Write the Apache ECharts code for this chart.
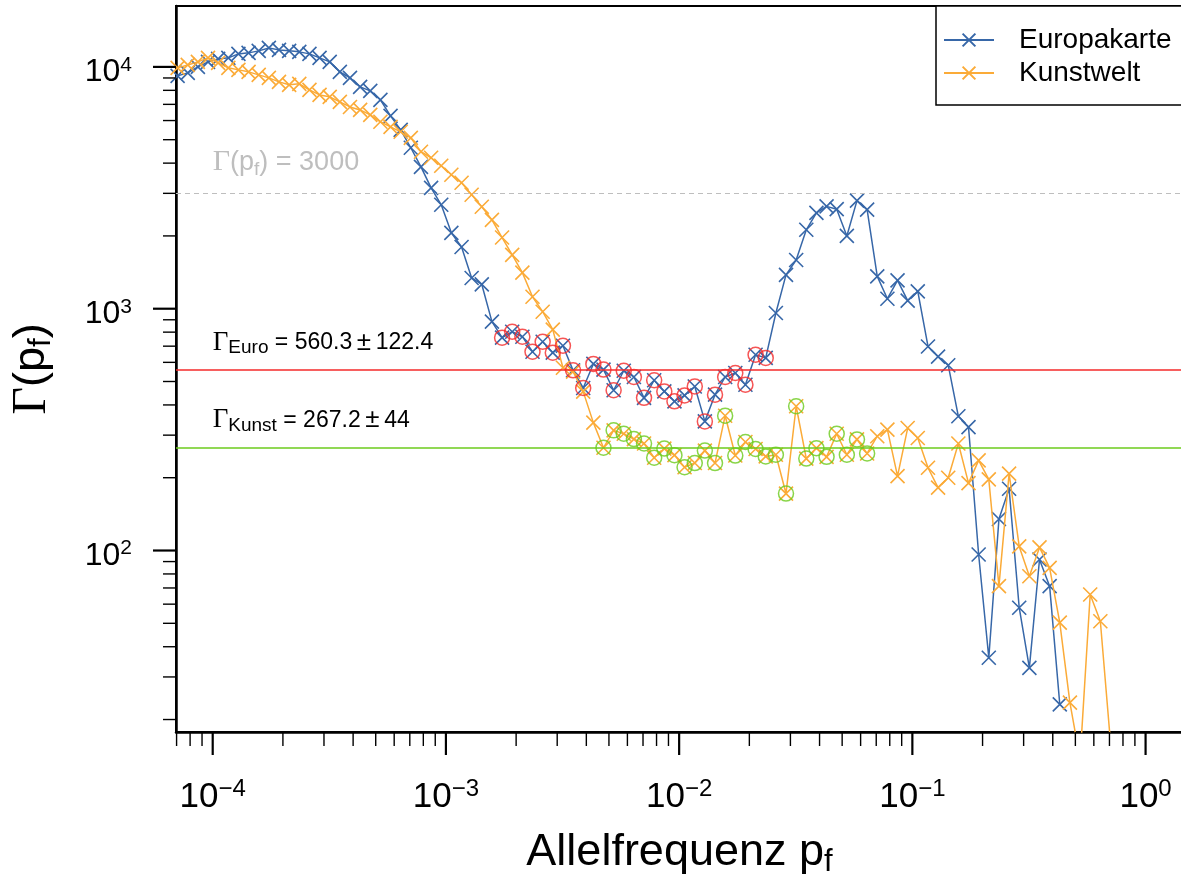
<!DOCTYPE html>
<html>
<head>
<meta charset="utf-8">
<script src="https://cdn.jsdelivr.net/npm/echarts@6/dist/echarts.min.js"></script>
<style>
html,body{margin:0;padding:0;background:#fff;}
#c{width:1181px;height:879px;}
</style>
</head>
<body>
<div id="c"></div>
<script>
// ---------------- data ----------------
// allele frequency bins (log-spaced)
const freq = [
  7.071e-5, 7.816e-5, 8.639e-5, 9.548e-5, 1.055e-4, 1.167e-4, 1.289e-4, 1.425e-4, 1.575e-4, 1.741e-4,
  1.924e-4, 2.127e-4, 2.351e-4, 2.599e-4, 2.872e-4, 3.175e-4, 3.509e-4, 3.878e-4, 4.287e-4, 4.738e-4,
  5.237e-4, 5.788e-4, 6.398e-4, 7.071e-4, 7.816e-4, 8.639e-4, 9.548e-4, 1.055e-3, 1.167e-3, 1.289e-3,
  1.425e-3, 1.575e-3, 1.741e-3, 1.924e-3, 2.127e-3, 2.351e-3, 2.599e-3, 2.872e-3, 3.175e-3, 3.509e-3,
  3.878e-3, 4.287e-3, 4.738e-3, 5.237e-3, 5.788e-3, 6.398e-3, 7.071e-3, 7.816e-3, 8.639e-3, 9.548e-3,
  1.055e-2, 1.167e-2, 1.289e-2, 1.425e-2, 1.575e-2, 1.741e-2, 1.924e-2, 2.127e-2, 2.351e-2, 2.599e-2,
  2.872e-2, 3.175e-2, 3.509e-2, 3.878e-2, 4.287e-2, 4.738e-2, 5.237e-2, 5.788e-2, 6.398e-2, 7.071e-2,
  7.816e-2, 8.639e-2, 9.548e-2, 1.055e-1, 1.167e-1, 1.289e-1, 1.425e-1, 1.575e-1, 1.741e-1, 1.924e-1,
  2.127e-1, 2.351e-1, 2.599e-1, 2.872e-1, 3.175e-1, 3.509e-1, 3.878e-1, 4.287e-1, 4.738e-1, 5.237e-1,
  5.788e-1, 6.398e-1, 7.071e-1
];
// Gamma(p_f) for "Europakarte"
const europakarte = [
  9180, 9450, 10000, 10490, 10790, 10900, 11320, 11430, 11650, 11980,
  11760, 11650, 11540, 11320, 10900, 10490, 9540, 9010, 8270, 7960,
  7310, 6270, 5490, 4630, 3860, 3160, 2690, 2060, 1800, 1340,
  1260, 884, 759, 803, 766, 664, 730, 658, 703, 556,
  470, 591, 560, 460, 554, 522, 428, 506, 455, 414,
  438, 477, 342, 441, 522, 542, 485, 645, 626, 960,
  1380, 1590, 2120, 2490, 2650, 2580, 2000, 2800, 2570, 1360,
  1100, 1310, 1080, 1180, 698, 634, 584, 359, 324, 96.3,
  36.0, 135, 180, 58.0, 32.7, 91.8, 71.2, 23.1
];
// Gamma(p_f) for "Kunstwelt"
const kunstwelt = [
  9910, 10190, 10490, 10900, 10390, 9910, 9720, 9540, 9270, 9010,
  8670, 8430, 8510, 8040, 7660, 7520, 7170, 6830, 6640, 6330,
  5930, 5650, 5390, 5090, 4460, 4210, 3900, 3580, 3320, 2960,
  2640, 2330, 1970, 1670, 1410, 1120, 972, 819, 570, 549,
  454, 338, 266, 314, 304, 289, 277, 242, 264, 248,
  221, 230, 259, 230, 361, 247, 281, 263, 245, 249,
  172, 395, 240, 265, 244, 304, 249, 288, 252, 297,
  316, 203, 321, 292, 220, 182, 200, 277, 190, 236,
  197, 71.2, 208, 104, 78.3, 103, 84.8, 50.3, 23.5, 13.7,
  65.8, 51.0, 16.1
];
// plateau fits: bin index window, mean and error
const euroFit = { from: 32, to: 58, mean: 560.3, err: 122.4 };
const kunstFit = { from: 42, to: 68, mean: 267.2, err: 44 };
const threshold = 3000;

// ticks
const xTickValues = [1e-4, 1e-3, 1e-2, 1e-1, 1];
const yTickValues = [100, 1000, 10000];
const xMinorTicks = [7e-5, 8e-5, 9e-5,
  2e-4, 3e-4, 4e-4, 5e-4, 6e-4, 7e-4, 8e-4, 9e-4,
  2e-3, 3e-3, 4e-3, 5e-3, 6e-3, 7e-3, 8e-3, 9e-3,
  2e-2, 3e-2, 4e-2, 5e-2, 6e-2, 7e-2, 8e-2, 9e-2,
  2e-1, 3e-1, 4e-1, 5e-1, 6e-1, 7e-1, 8e-1, 9e-1];
const yMinorTicks = [20, 30, 40, 50, 60, 70, 80, 90,
  200, 300, 400, 500, 600, 700, 800, 900,
  2000, 3000, 4000, 5000, 6000, 7000, 8000, 9000];

// ---------------- style ----------------
const X_MIN = 6.96e-5, X_MAX = 1.447;
const Y_MIN = 17.76, Y_MAX = 17860;
const SANS = '"Liberation Sans", Arial, Helvetica, sans-serif';
const SERIF = '"Liberation Serif", "DejaVu Serif", serif';
const BLUE = '#3767A8';
const ORANGE = '#FBAB38';
const RED = '#F42A2A';
const GREEN = '#6CCB1C';
const GREY = '#BEBEBE';
const CROSS = 'path://M0,0L10,10M10,0L0,10';

const pairs = (vals) => vals.map((v, i) => [freq[i], v]);
const fitPairs = (vals, fit) => vals.slice(fit.from, fit.to + 1).map((v, j) => [freq[fit.from + j], v]);

// axis ticks drawn through the axes' scales (outside the plot area)
function tickSeries(values, dim, len, width) {
  return {
    type: 'custom', silent: true, clip: false, z: 10,
    data: values.map(v => dim === 'x' ? [v, Y_MIN] : [X_MIN, v]),
    encode: { x: 0, y: 1 },
    renderItem: (params, api) => {
      const p = api.coord([api.value(0), api.value(1)]);
      const shape = dim === 'x'
        ? { x1: p[0], y1: p[1], x2: p[0], y2: p[1] + len }
        : { x1: p[0] - len, y1: p[1], x2: p[0], y2: p[1] };
      return { type: 'line', shape, style: { stroke: '#000', lineWidth: width } };
    }
  };
}

const chart = echarts.init(document.getElementById('c'), null, { renderer: 'canvas', width: 1181, height: 879 });

const option = {
  animation: false,
  backgroundColor: '#fff',
  textStyle: { fontFamily: SANS },
  grid: {
    left: 176, top: 6, width: 1007, height: 726,
    show: true, borderColor: '#000', borderWidth: 2, backgroundColor: 'transparent',
    containLabel: false, outerBoundsMode: 'none'
  },
  legend: {
    data: ['Europakarte', 'Kunstwelt'],
    orient: 'vertical', left: 936, top: 6,
    padding: [20, 40, 18, 7],
    itemWidth: 50, itemHeight: 16, itemGap: 5,
    backgroundColor: '#fff', borderColor: '#000', borderWidth: 1.5, borderRadius: 0,
    textStyle: { fontFamily: SANS, fontSize: 28, color: '#000', padding: [0, 0, 0, 20] },
    selectedMode: false
  },
  xAxis: {
    type: 'log', logBase: 10, min: X_MIN, max: X_MAX,
    name: '{t|Allelfrequenz p}{sub|f}',
    nameLocation: 'middle', nameGap: 96,
    nameTextStyle: {
      color: '#000',
      rich: {
        t: { fontFamily: SANS, fontSize: 45, lineHeight: 50, color: '#000' },
        sub: { fontFamily: SANS, fontSize: 31, lineHeight: 26, verticalAlign: 'bottom', color: '#000' }
      }
    },
    axisLine: { show: true, onZero: false, lineStyle: { color: '#000', width: 2.5 } },
    axisTick: { show: false },
    axisLabel: {
      customValues: xTickValues, margin: 45, hideOverlap: false,
      formatter: v => '{b|10}{s|' + String(Math.round(Math.log10(v))).replace('-', '\u2212') + '}',
      rich: {
        b: { fontFamily: SANS, fontSize: 35, lineHeight: 40, color: '#000' },
        s: { fontFamily: SANS, fontSize: 24, lineHeight: 14, verticalAlign: 'top', color: '#000' }
      }
    },
    splitLine: { show: false }, minorTick: { show: false }, minorSplitLine: { show: false }
  },
  yAxis: {
    type: 'log', logBase: 10, min: Y_MIN, max: Y_MAX,
    name: '{g|\u0393}{t|(p}{sub|f}{t|)}',
    nameLocation: 'middle', nameGap: 119, nameRotate: 90,
    nameTextStyle: {
      color: '#000',
      rich: {
        g: { fontFamily: SERIF, fontSize: 48, lineHeight: 50, color: '#000' },
        t: { fontFamily: SANS, fontSize: 45, lineHeight: 50, color: '#000' },
        sub: { fontFamily: SANS, fontSize: 31, lineHeight: 26, verticalAlign: 'bottom', color: '#000' }
      }
    },
    axisLine: { show: true, onZero: false, lineStyle: { color: '#000', width: 2.5 } },
    axisTick: { show: false },
    axisLabel: {
      customValues: yTickValues, margin: 44, hideOverlap: false, padding: [11, 0, 0, 0],
      formatter: v => '{b|10}{s|' + Math.round(Math.log10(v)) + '}',
      rich: {
        b: { fontFamily: SANS, fontSize: 32, lineHeight: 36, color: '#000' },
        s: { fontFamily: SANS, fontSize: 21, lineHeight: 12, verticalAlign: 'top', color: '#000' }
      }
    },
    splitLine: { show: false }, minorTick: { show: false }, minorSplitLine: { show: false }
  },
  series: [
    {
      name: 'Europakarte', type: 'line', data: pairs(europakarte),
      symbol: CROSS, symbolSize: 14, showAllSymbol: true,
      lineStyle: { color: BLUE, width: 1.5 },
      itemStyle: { color: BLUE, borderColor: BLUE, borderWidth: 1.6 },
      emphasis: { disabled: true }, z: 3,
      markLine: {
        silent: true, symbol: ['none', 'none'], label: { show: false }, animation: false,
        data: [
          { yAxis: threshold, lineStyle: { color: GREY, type: [5, 4], width: 1.2 } },
          { yAxis: euroFit.mean, lineStyle: { color: RED, type: 'solid', width: 1.5 } }
        ]
      }
    },
    {
      name: 'Kunstwelt', type: 'line', data: pairs(kunstwelt),
      symbol: CROSS, symbolSize: 14, showAllSymbol: true,
      lineStyle: { color: ORANGE, width: 1.5 },
      itemStyle: { color: ORANGE, borderColor: ORANGE, borderWidth: 1.6 },
      emphasis: { disabled: true }, z: 4,
      markLine: {
        silent: true, symbol: ['none', 'none'], label: { show: false }, animation: false,
        data: [
          { yAxis: kunstFit.mean, lineStyle: { color: GREEN, type: 'solid', width: 1.5 } }
        ]
      }
    },
    {
      name: 'Euro fit', type: 'scatter', data: fitPairs(europakarte, euroFit),
      symbol: 'circle', symbolSize: 15, silent: true, z: 5,
      itemStyle: { color: 'none', borderColor: RED, borderWidth: 1.5 }
    },
    {
      name: 'Kunst fit', type: 'scatter', data: fitPairs(kunstwelt, kunstFit),
      symbol: 'circle', symbolSize: 15, silent: true, z: 5,
      itemStyle: { color: 'none', borderColor: GREEN, borderWidth: 1.5 }
    },
    tickSeries(xTickValues, 'x', 23, 2.2),
    tickSeries(yTickValues, 'y', 23, 2.2),
    tickSeries(xMinorTicks, 'x', 14, 1.4),
    tickSeries(yMinorTicks, 'y', 13, 1.4)
  ]
};
chart.setOption(option);

// annotation texts anchored at p_f = 1e-4 relative to their horizontal lines
function annotate() {
  const at = (y) => chart.convertToPixel({ xAxisIndex: 0, yAxisIndex: 0 }, [1e-4, y]);
  const pThr = at(threshold), pEuro = at(euroFit.mean), pKunst = at(kunstFit.mean);
  const annRich = (color, g, t, pm, sub, lh) => ({
    g: { fontFamily: SERIF, fontSize: g, lineHeight: lh, fill: color, color },
    t: { fontFamily: SANS, fontSize: t, lineHeight: lh, fill: color, color },
    pm: { fontFamily: SANS, fontSize: pm, lineHeight: lh, fill: color, color },
    sub: { fontFamily: SANS, fontSize: sub, lineHeight: 18, verticalAlign: 'bottom', fill: color, color }
  });
  chart.setOption({
    graphic: [
      {
        type: 'text', x: pThr[0], y: pThr[1] - 48, silent: true, z: 20,
        style: {
          text: '{g|\u0393}{t|(p}{sub|f}{t|) = ' + threshold + '}',
          rich: annRich(GREY, 30, 27, 27, 19, 34),
          align: 'left', verticalAlign: 'top', fill: GREY
        }
      },
      {
        type: 'text', x: pEuro[0], y: pEuro[1] - 42, silent: true, z: 20,
        style: {
          text: '{g|\u0393}{sub|Euro}{t| = ' + euroFit.mean.toFixed(1) + '\u2009}{pm|\u00b1}{t|\u2009' + euroFit.err.toFixed(1) + '}',
          rich: annRich('#000', 27, 23, 26, 19, 30),
          align: 'left', verticalAlign: 'top', fill: '#000'
        }
      },
      {
        type: 'text', x: pKunst[0], y: pKunst[1] - 42, silent: true, z: 20,
        style: {
          text: '{g|\u0393}{sub|Kunst}{t| = ' + kunstFit.mean.toFixed(1) + '\u2009}{pm|\u00b1}{t|\u2009' + kunstFit.err + '}',
          rich: annRich('#000', 27, 23, 26, 19, 30),
          align: 'left', verticalAlign: 'top', fill: '#000'
        }
      }
    ]
  });
}
annotate();
</script>
</body>
</html>
